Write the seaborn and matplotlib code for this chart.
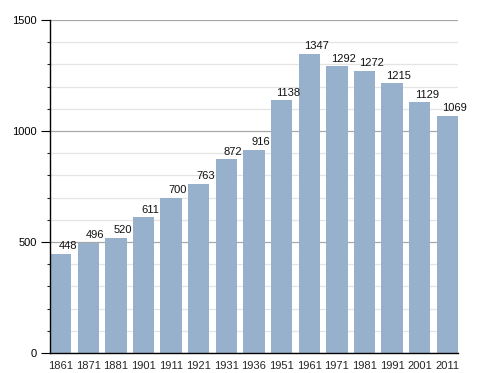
import matplotlib
matplotlib.use("Agg")
import matplotlib.pyplot as plt
import seaborn as sns
import pandas as pd
from matplotlib.ticker import MultipleLocator

years = ["1861", "1871", "1881", "1901", "1911", "1921", "1931", "1936",
         "1951", "1961", "1971", "1981", "1991", "2001", "2011"]
population = [448, 496, 520, 611, 700, 763, 872, 916,
              1138, 1347, 1292, 1272, 1215, 1129, 1069]
y_ticks = [0, 500, 1000, 1500]

df = pd.DataFrame({"year": years, "pop": population})

sns.set_style("white")
plt.rcParams['font.family'] = ['Liberation Sans', 'DejaVu Sans']

fig = plt.figure(figsize=(4.88, 3.73), dpi=100)
ax = fig.add_axes([50/488, 1 - 353/373, 408/488, 333/373])

bar_color = "#97b0cb"
w = 0.77
sns.barplot(data=df, x="year", y="pop", color=bar_color, width=w,
            saturation=1, ax=ax, zorder=2, edgecolor="none")

ax.set_xlim(-w/2, len(years) - 1 + w/2)
ax.set_ylim(0, 1500)
ax.set_yticks(y_ticks)
ax.set_yticklabels([str(t) for t in y_ticks])
ax.yaxis.set_minor_locator(MultipleLocator(100))

ax.grid(axis="y", which="minor", color="#e4e4e4", linewidth=0.9, zorder=0)
ax.grid(axis="y", which="major", color="#a8a8a8", linewidth=0.9, zorder=0)
ax.set_axisbelow(True)

for i, v in enumerate(population):
    ax.text(i + 0.25, v + 12, str(v), ha="center", va="bottom",
            fontsize=8, color="#111111", zorder=3)

ax.set_xlabel("")
ax.set_ylabel("")
for s in ["top", "right"]:
    ax.spines[s].set_visible(False)
ax.spines["left"].set_color("black")
ax.spines["bottom"].set_color("black")
ax.spines["left"].set_linewidth(1.0)
ax.spines["bottom"].set_linewidth(1.0)
ax.spines["left"].set_zorder(4)
ax.spines["bottom"].set_zorder(4)

ax.tick_params(axis="y", which="major", left=True, direction="out", length=6.5,
               width=0.8, labelsize=8, pad=3, colors="black")
ax.tick_params(axis="y", which="minor", left=True, direction="out", length=2.5,
               width=0.8)
ax.tick_params(axis="x", bottom=False, labelsize=8, pad=2)

fig.savefig("out.png", dpi=100)
